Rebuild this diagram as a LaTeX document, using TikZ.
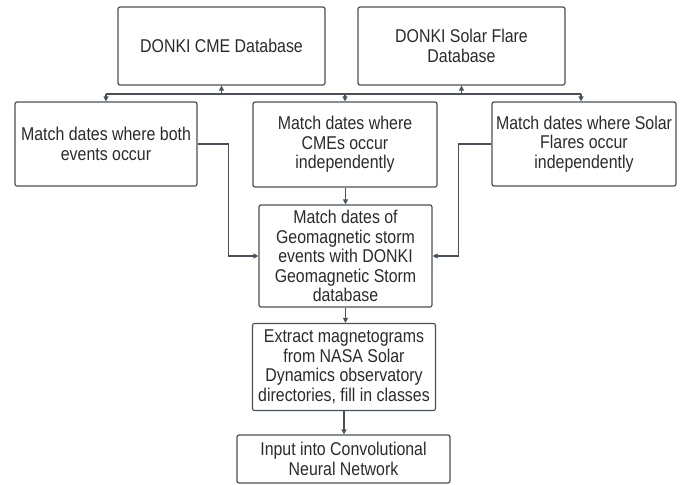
\documentclass[tikz,border=0pt]{standalone}
\usepackage{fontspec}
\setmainfont{Liberation Sans}
\newfontfamily\boxfont{Liberation Sans}[FakeStretch=0.86]
\usetikzlibrary{arrows.meta}
\definecolor{ln}{HTML}{4A505A}
\definecolor{tx}{HTML}{2B2B2B}
\tikzset{
  x=1pt, y=-1pt,
  box/.style={draw=ln, line width=1.2pt, rounded corners=2pt, fill=white, align=center,
    text=tx, font=\boxfont\fontsize{18.5}{19.6}\selectfont, inner sep=2pt},
  link/.style={draw=ln, line width=1.2pt, -{Triangle[length=5pt,width=5pt]}},
  rlink/.style={draw=ln, line width=1.2pt, {Triangle[length=5pt,width=5pt]}-},
  plain/.style={draw=ln, line width=1.2pt}
}
\begin{document}
\begin{tikzpicture}
\useasboundingbox (0,0) rectangle (681,485);
\node[box, minimum width=207pt, minimum height=78pt] (cme) at (221.5,46) {DONKI CME Database};
\node[box, minimum width=207pt, minimum height=78pt] (sf) at (461.5,46) {DONKI Solar Flare\\Database};
\node[box, minimum width=182pt, minimum height=84pt] (left) at (106,144) {Match dates where both\\events occur};
\node[box, minimum width=184pt, minimum height=85pt] (mid) at (345,144.5) {Match dates where\\CMEs occur\\independently};
\node[box, minimum width=184pt, minimum height=84pt] (right) at (584,144) {Match dates where Solar\\Flares occur\\independently};
\node[box, minimum width=173pt, minimum height=102pt] (geo) at (345.5,256) {Match dates of\\Geomagnetic storm\\events with DONKI\\Geomagnetic Storm\\database};
\node[box, minimum width=183pt, minimum height=87pt] (ext) at (344,367) {Extract magnetograms\\from NASA Solar\\Dynamics observatory\\directories, fill in classes};
\node[box, minimum width=213pt, minimum height=48pt] (inp) at (343.5,459) {Input into Convolutional\\Neural Network};

\coordinate (busL) at (106,94);
\coordinate (busR) at (581,94);
\draw[plain] (busL) -- (busR);
\draw[link] (busL) -- (left.north);
\draw[link] (busR) -- (right.north -| busR);
\draw[link] (mid.north |- busL) -- (mid.north);
\draw[rlink] (cme.south) -- (cme.south |- busL);
\draw[rlink] (sf.south) -- (sf.south |- busL);

\draw[link] (left.east) -- ++(31,0) |- (geo.west);
\draw[link] (right.west) -- ++(-33,0) |- (geo.east);
\draw[link] (mid.south -| geo.north) -- (geo.north);
\draw[link] (geo.south) -- (geo.south |- ext.north);
\draw[link] (ext.south) -- (ext.south |- inp.north);
\end{tikzpicture}
\end{document}
